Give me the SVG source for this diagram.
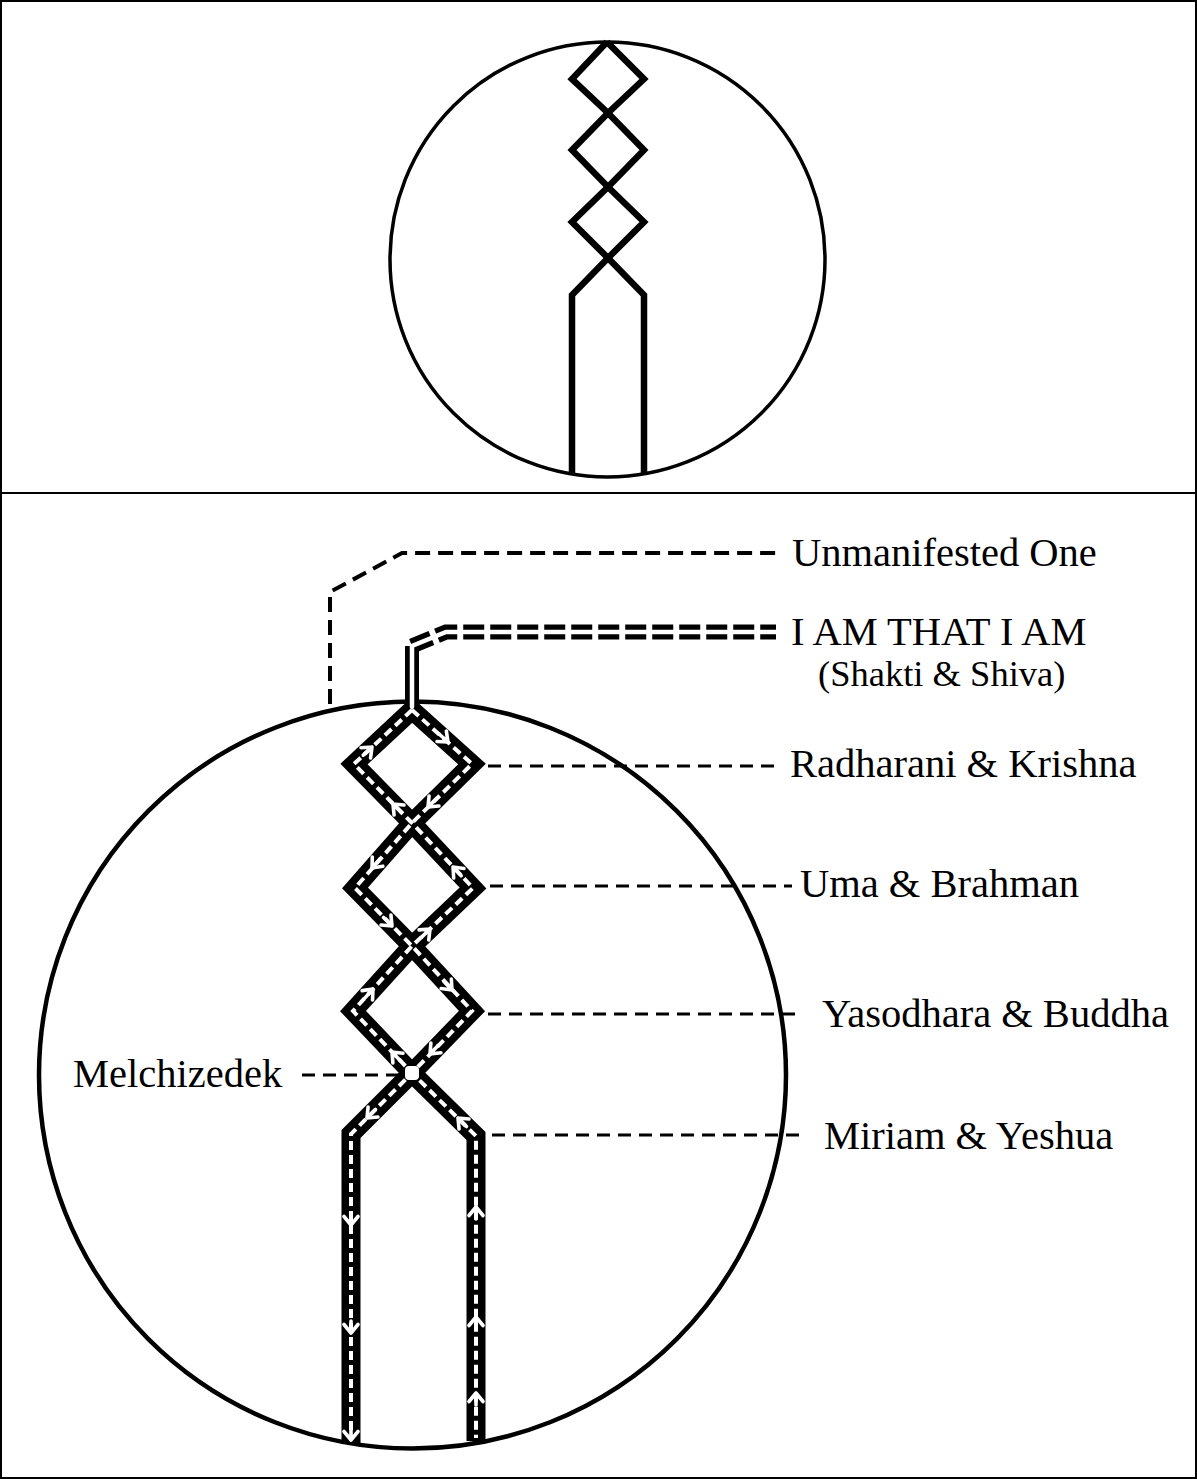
<svg xmlns="http://www.w3.org/2000/svg" xmlns:xlink="http://www.w3.org/1999/xlink" width="1197" height="1479" viewBox="0 0 1197 1479">
<style>
.frame{fill:none;stroke:#000;stroke-width:2}
.circ{fill:none;stroke:#000}
.thin{fill:none;stroke:#000;stroke-width:6.5;stroke-linejoin:miter}
.band{fill:none;stroke:#000;stroke-width:19;stroke-linejoin:miter;stroke-miterlimit:10}
.core{fill:none;stroke:#fff;stroke-width:4;stroke-dasharray:9 5}
.lead{fill:none;stroke:#000;stroke-width:3;stroke-dasharray:13 8}
.lbl{font-family:"Liberation Serif","Times New Roman",serif;font-size:40.5px;fill:#000}
.sub{font-size:36.5px}
</style>
<defs>
<path id="ar" d="M-8.5,-7 L0,0 L-8.5,7 M0,0 L-12,0" fill="none" stroke="#fff" stroke-width="3.6" stroke-linecap="round" stroke-linejoin="round"/>
</defs>
<rect width="1197" height="1479" fill="#fff"/>
<g id="frame">
<rect class="frame" x="1" y="1" width="1195" height="1477"/>
<line class="frame" x1="1" y1="493" x2="1196" y2="493"/>
</g>
<g id="top-figure">
<circle class="circ" cx="607.5" cy="259.5" r="217.5" stroke-width="3.5"/>
<path class="thin" d="M607,42 L572,79 L608,113 L644,150 L608,187 L572,222 L608,258 L572,295 L572,475"/>
<path class="thin" d="M607,42 L644,79 L608,113 L572,150 L608,187 L644,222 L608,258 L644,295 L644,475"/>
</g>
<g id="bottom-circle">
<circle class="circ" cx="412.5" cy="1075" r="373.5" stroke-width="4.5"/>
</g>
<g id="connectors">
<path d="M330,704 L330,592 L402,553 L776,553" fill="none" stroke="#000" stroke-width="4" stroke-dasharray="15 8"/>
<line class="lead" x1="488" y1="766" x2="776" y2="766"/>
<line class="lead" x1="490" y1="886" x2="792" y2="886"/>
<line class="lead" x1="488" y1="1014" x2="803" y2="1014"/>
<line class="lead" x1="492" y1="1135" x2="803" y2="1135"/>
<line class="lead" x1="302" y1="1075" x2="398" y2="1075"/>
</g>
<g id="stem">
<path d="M412,712 L412,646" fill="none" stroke="#000" stroke-width="14"/>
<path d="M412,646 L446,632 L776,632" fill="none" stroke="#000" stroke-width="15" stroke-dasharray="21 6"/>
<path d="M412,712 L412,646 L446,632 L776,632" fill="none" stroke="#fff" stroke-width="4.5"/>
</g>
<g id="strands">
<path class="band" d="M412,710 L354,764 L412,823 L473,888 L412,946 L353,1011 L412,1073 L351,1134 L351,1443"/>
<path class="band" d="M412,710 L472,764 L412,823 L355,888 L412,946 L472,1011 L412,1073 L476,1136 L476,1441"/>
<path class="core" d="M412,710 L354,764 L412,823 L473,888 L412,946 L353,1011 L412,1073 L351,1134 L351,1440"/>
<path class="core" d="M412,710 L472,764 L412,823 L355,888 L412,946 L472,1011 L412,1073 L476,1136 L476,1438"/>
<rect x="405" y="1066" width="14" height="14" rx="4" fill="#fff"/>
</g>
<g id="arrows">
<use xlink:href="#ar" transform="translate(372,747) rotate(-43)"/>
<use xlink:href="#ar" transform="translate(448,742) rotate(42)"/>
<use xlink:href="#ar" transform="translate(428,807) rotate(135)"/>
<use xlink:href="#ar" transform="translate(393,804) rotate(-135)"/>
<use xlink:href="#ar" transform="translate(372,868) rotate(131)"/>
<use xlink:href="#ar" transform="translate(453,867) rotate(-133)"/>
<use xlink:href="#ar" transform="translate(392,926) rotate(45)"/>
<use xlink:href="#ar" transform="translate(430,929) rotate(-44)"/>
<use xlink:href="#ar" transform="translate(373,989) rotate(-48)"/>
<use xlink:href="#ar" transform="translate(452,990) rotate(47)"/>
<use xlink:href="#ar" transform="translate(392,1052) rotate(-134)"/>
<use xlink:href="#ar" transform="translate(430,1054) rotate(134)"/>
<use xlink:href="#ar" transform="translate(367,1118) rotate(135)"/>
<use xlink:href="#ar" transform="translate(458,1118) rotate(-135)"/>
<use xlink:href="#ar" transform="translate(351,1225) rotate(90)"/>
<use xlink:href="#ar" transform="translate(351,1333) rotate(90)"/>
<use xlink:href="#ar" transform="translate(351,1440) rotate(90)"/>
<use xlink:href="#ar" transform="translate(476,1207) rotate(-90)"/>
<use xlink:href="#ar" transform="translate(476,1317) rotate(-90)"/>
<use xlink:href="#ar" transform="translate(476,1393) rotate(-90)"/>
</g>
<g id="labels">
<text class="lbl" x="792" y="566">Unmanifested One</text>
<text class="lbl" x="791" y="645">I AM THAT I AM</text>
<text class="lbl sub" x="818" y="686">(Shakti &amp; Shiva)</text>
<text class="lbl" x="790" y="777">Radharani &amp; Krishna</text>
<text class="lbl" x="800" y="897">Uma &amp; Brahman</text>
<text class="lbl" x="822" y="1027">Yasodhara &amp; Buddha</text>
<text class="lbl" x="824" y="1149">Miriam &amp; Yeshua</text>
<text class="lbl" x="73" y="1087">Melchizedek</text>
</g>
</svg>
